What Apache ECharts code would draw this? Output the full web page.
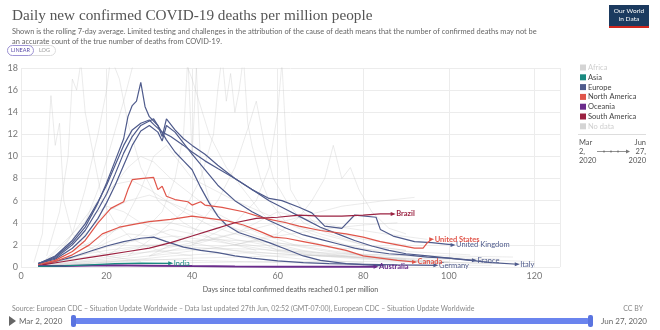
<!DOCTYPE html>
<html><head><meta charset="utf-8">
<script src="https://cdn.jsdelivr.net/npm/echarts@6/dist/echarts.min.js"></script>
<style>html,body{margin:0;padding:0;background:#fff}#c{width:660px;height:330px}</style>
</head><body><div id="c"></div><script>
// ---- data (day since 0.1 deaths/million, 7-day avg deaths per million) ----
const xTicks = [0, 20, 40, 60, 80, 100, 120];
const yTicks = [0, 2, 4, 6, 8, 10, 12, 14, 16, 18];
const continents = ['Africa', 'Asia', 'Europe', 'North America', 'Oceania', 'South America', 'No data'];

const spain = [[4,0.3],[8,0.9],[12,2.2],[15,3.6],[18,5.8],[20,7.6],[22,9.6],[24,11.6],[25,13.6],[26,14.6],[27,15.0],[28,16.7],[29,14.5],[30,13.6],[32,12.8],[34,11.5],[36,10.4],[38,9.6],[40,8.8],[42,7.2],[44,5.8],[46,4.6],[48,3.8],[51,3.1],[55,2.6],[58,2.2],[62,1.6],[66,1.0],[70,0.6],[76,0.3],[85,0.1]];
const italy = [[4,0.3],[8,1.0],[12,2.4],[15,3.9],[18,5.9],[20,7.4],[22,9.2],[24,11.0],[26,12.4],[28,13.0],[30,13.3],[31,12.9],[33,12.2],[35,11.8],[38,11.0],[40,10.4],[43,9.6],[46,8.9],[50,8.0],[54,7.0],[58,6.0],[62,5.2],[66,4.4],[70,3.6],[74,3.0],[78,2.4],[82,1.9],[86,1.5],[90,1.2],[95,1.0],[100,0.8],[105,0.6],[110,0.4],[116,0.25]];
const uk = [[4,0.3],[8,0.8],[12,2.0],[15,3.3],[18,5.2],[20,6.6],[22,8.4],[24,10.3],[26,11.8],[28,12.8],[30,13.2],[31,13.4],[32,12.8],[33,11.8],[34,13.4],[36,12.4],[38,11.6],[40,11.0],[43,10.2],[46,9.2],[50,8.0],[54,7.0],[58,6.2],[61,6.0],[65,5.4],[68,4.9],[71,3.7],[75,3.5],[78,4.7],[83,4.5],[84,3.4],[87,2.8],[92,2.3],[96,2.2],[101,2.0]];
const france = [[4,0.3],[8,0.7],[12,1.7],[15,2.8],[18,4.4],[20,5.8],[22,7.4],[24,9.2],[26,11.0],[28,12.3],[30,12.8],[32,12.2],[33,11.4],[34,12.8],[36,12.2],[38,11.2],[40,10.2],[43,8.8],[46,7.4],[50,6.0],[54,5.0],[58,4.2],[62,3.5],[66,2.9],[70,2.5],[74,2.1],[78,1.7],[82,1.4],[86,1.2],[90,1.1],[95,0.9],[100,0.8],[106,0.6]];
const germany = [[4,0.2],[8,0.5],[12,0.9],[16,1.4],[20,1.9],[24,2.3],[28,2.6],[31,2.7],[34,2.3],[38,1.8],[42,1.5],[46,1.3],[50,1.0],[54,0.8],[60,0.55],[66,0.4],[72,0.3],[80,0.25],[88,0.2],[97,0.15]];
const unitedStates = [[4,0.2],[8,0.6],[12,1.4],[15,2.4],[18,4.0],[21,5.3],[24,5.9],[25,7.0],[26,7.9],[28,8.0],[31,8.1],[32,7.0],[33,7.3],[34,6.4],[36,6.1],[39,5.9],[40,5.6],[42,5.9],[43,5.6],[47,5.4],[52,5.0],[57,4.4],[62,4.0],[65,3.7],[70,3.3],[76,3.0],[80,2.7],[84,2.3],[88,2.0],[92,1.7],[94,1.7],[95,2.2],[96,2.5]];
const canada = [[4,0.1],[8,0.5],[12,1.1],[16,2.0],[19,3.0],[23,3.6],[27,3.9],[30,4.1],[35,4.3],[40,4.6],[44,4.4],[48,4.2],[52,3.8],[56,3.2],[59,2.7],[62,2.6],[66,2.3],[70,2.0],[76,1.5],[80,1.0],[84,0.8],[88,0.6],[92,0.45]];
const brazil = [[5,0.2],[10,0.5],[15,0.8],[20,1.1],[25,1.4],[30,1.7],[35,2.2],[40,2.8],[45,3.4],[50,4.0],[55,4.4],[60,4.5],[65,4.7],[70,4.6],[75,4.6],[80,4.7],[84,4.8],[87,4.8]];
const australia = [[4,0.1],[10,0.1],[20,0.15],[30,0.12],[40,0.08],[50,0.05],[60,0.03],[70,0.02],[83,0.02]];
const india = [[4,0.05],[10,0.1],[16,0.2],[22,0.3],[28,0.35],[35,0.33]];

// faint background countries
const otherCountries = [
  [[3,0.4],[5,3],[6,9],[7,15.5],[8,11],[9,13],[10,6],[12,3],[15,2],[20,1],[28,0.5]],
  [[6,1],[9,5],[11,10],[12,17],[13,16],[14,18.5],[15,14],[17,10],[19,6],[22,4],[26,2.5],[32,1.5],[40,1]],
  [[8,0.5],[12,3],[15,7],[18,12],[20,16],[21,19],[23,17],[25,13],[28,9],[32,6],[38,4],[45,2.5],[55,1.5]],
  [[5,0.4],[10,1.5],[15,4],[18,7],[21,11],[24,15],[26,18],[28,20],[32,23],[36,21],[40,17],[44,12],[48,9],[52,7],[56,5],[60,3.5],[66,2.5],[72,1.8],[80,1],[90,0.6],[100,0.4]],
  [[20,1],[28,3],[33,5],[36,8],[38,12],[39,19],[40,10],[41,18],[42,9],[44,6],[47,4],[52,3],[60,1.5],[70,1]],
  [[25,1],[32,3],[38,5],[42,8],[45,12],[46,16],[47,19],[48,15],[49,17.5],[50,14],[51,16],[52,19],[53,13],[54,11],[56,8],[58,6],[62,4],[68,3],[76,2],[86,1.2]],
  [[30,1],[40,3],[46,6],[50,9],[53,12.5],[55,15],[57,11],[59,8],[62,6],[66,4],[72,3],[80,2],[90,1.5]],
  [[40,2],[50,4],[55,6],[58,9],[60,14],[61,18.5],[62,11],[63,7],[66,5],[70,3.5],[80,2.5],[90,2]],
  [[50,2],[60,3],[65,4.5],[68,6],[71,8],[73,11],[74,9.5],[75,8],[77,9],[79,7],[82,5],[86,3.5],[90,3]],
  [[5,0.3],[10,1],[15,2],[20,3],[25,3.8],[30,4.2],[35,4],[40,3.5],[50,2.5],[60,1.8],[70,1.2],[80,0.8],[90,0.6],[100,0.5]],
  [[5,0.2],[12,0.8],[20,1.8],[28,2.5],[36,2.8],[44,2.4],[52,1.9],[60,1.4],[70,1],[80,0.7],[95,0.5],[110,0.3]],
  [[5,0.3],[10,1.5],[15,3],[20,5],[25,6],[30,6.5],[35,5.8],[40,5],[45,4.2],[50,3.5],[55,2.8],[60,2.2],[70,1.5],[80,1],[90,0.7]],
  [[5,0.1],[15,0.5],[25,1],[35,1.8],[45,2.6],[55,3.5],[65,4.5],[75,5.5],[85,6],[92,6.3]],
  [[5,0.2],[20,0.6],[35,1.2],[50,2],[60,2.8],[70,3.4],[80,3.8],[88,4]],
  [[5,0.1],[15,0.3],[25,0.6],[35,1],[45,1.2],[55,1.3],[65,1.1],[75,0.9],[85,0.8],[95,0.6]],
  [[5,0.3],[10,2],[14,4],[18,6],[22,7.5],[26,7.8],[30,7],[34,6],[38,5],[44,3.8],[50,3],[58,2.2],[66,1.5],[76,1],[90,0.6]],
  [[5,0.2],[10,0.8],[20,1.5],[30,2],[40,1.8],[50,1.5],[60,1.2],[70,1],[80,0.9],[90,0.8],[100,0.7],[110,0.6],[120,0.5]],
  [[5,0.1],[20,0.4],[40,0.8],[60,1],[80,1.1],[100,1],[115,0.9]],
  [[5,0.4],[8,1.5],[12,3],[16,4.5],[20,5.5],[24,5],[28,4],[34,3],[40,2.2],[48,1.6],[56,1.1],[66,0.7],[80,0.4]],
  [[5,0.2],[15,0.9],[25,1.6],[35,2.2],[45,2.5],[55,2.3],[65,2],[75,1.7],[85,1.5],[95,1.3],[105,1.1]],
  [[5,0.05],[20,0.2],[40,0.4],[60,0.5],[80,0.5],[100,0.4],[120,0.3]],
  [[5,0.2],[10,0.6],[15,1.2],[20,2.2],[25,3],[30,2.8],[35,3.4],[40,3],[45,2.6],[50,2.2],[60,1.6],[70,1.1],[80,0.8],[90,0.5],[100,0.4]],
  [[30,1],[40,2],[50,3],[55,4],[60,5],[65,4.5],[70,4],[75,3.6],[85,3],[95,2.5]],
  [[5,0.3],[9,1.2],[13,2.8],[17,5],[21,7],[25,9],[28,10],[31,9.5],[35,8],[40,6.5],[45,5],[50,4],[56,3],[64,2],[72,1.5],[82,1],[92,0.7]],
  [[10,0.5],[18,2],[24,4],[28,7],[31,10],[34,11],[37,9.5],[40,8],[45,7],[50,6],[56,5],[62,4],[70,3],[80,2],[90,1.5]],
  [[5,0.2],[15,0.6],[25,1.2],[35,1.5],[45,1.7],[55,1.6],[65,1.4],[75,1.2],[85,1.1],[95,0.9],[105,0.8],[112,0.7]],
  [[5,0.1],[12,0.3],[20,0.5],[30,0.7],[40,0.6],[50,0.5],[60,0.4],[75,0.3],[90,0.2],[110,0.15]]
];

const COLORS = {
  'Africa': '#d4d4d4', 'Asia': '#1a8a80', 'Europe': '#4f5b8c', 'North America': '#e0554a',
  'Oceania': '#6b2c8c', 'South America': '#9b2241', 'No data': '#d4d4d4'
};

const highlighted = [
  {name: 'Spain', data: spain, cont: 'Europe', label: false},
  {name: 'Italy', data: italy, cont: 'Europe', label: true},
  {name: 'France', data: france, cont: 'Europe', label: true},
  {name: 'United Kingdom', data: uk, cont: 'Europe', label: true},
  {name: 'Germany', data: germany, cont: 'Europe', label: true},
  {name: 'Canada', data: canada, cont: 'North America', label: true, bold: true},
  {name: 'United States', data: unitedStates, cont: 'North America', label: true, bold: true},
  {name: 'Brazil', data: brazil, cont: 'South America', label: true, bold: true},
  {name: 'Australia', data: australia, cont: 'Oceania', label: true, bold: true, width: 2},
  {name: 'India', data: india, cont: 'Asia', label: true}
];

const series = [];
otherCountries.forEach((pts, i) => {
  series.push({
    type: 'line', name: 'other' + i, data: pts, symbol: 'none', silent: true,
    lineStyle: {color: '#c8c8c8', width: 0.8, opacity: 0.45}, z: 1, clip: true
  });
});
highlighted.forEach(h => {
  const col = COLORS[h.cont];
  const data = h.data.map((p, i) => i === h.data.length - 1 && h.label
    ? {value: p, symbol: 'triangle', symbolSize: [4, 5], symbolRotate: -90, itemStyle: {color: col}}
    : {value: p});
  series.push({
    type: 'line', name: h.name, data: data, symbol: 'none', showSymbol: true, showAllSymbol: true,
    lineStyle: {color: col, width: h.width || 1.2}, itemStyle: {color: col}, z: 5, clip: true,
    endLabel: {
      show: h.label, formatter: h.name, color: col, distance: 3,
      fontFamily: 'Lato', fontSize: 7.5, fontWeight: h.bold ? 'bold' : 'normal'
    }
  });
});

// legend drawn from the continent list
const legendGraphics = [];
continents.forEach((c, i) => {
  const y = 67.5 + i * 9.8;
  const faded = (c === 'Africa' || c === 'No data');
  legendGraphics.push({type: 'rect', shape: {x: 580, y: y - 3, width: 6, height: 6}, style: {fill: COLORS[c]}});
  legendGraphics.push({type: 'text', style: {x: 588, y: y, text: c, fill: faded ? '#cfcfcf' : '#444', font: '7.5px Lato', textVerticalAlign: 'middle'}});
});

const chart = echarts.init(document.getElementById('c'), null, {renderer: 'canvas'});
chart.setOption({
  animation: false,
  textStyle: {fontFamily: 'Lato'},
  title: [
    {text: 'Daily new confirmed COVID-19 deaths per million people', left: 7, top: 3,
     textStyle: {fontFamily: 'Liberation Serif', fontSize: 15.25, fontWeight: 'normal', color: '#555'}},
    {text: 'Shown is the rolling 7-day average. Limited testing and challenges in the attribution of the cause of death means that the number of confirmed deaths may not be\nan accurate count of the true number of deaths from COVID-19.',
     left: 7, top: 21, textStyle: {fontFamily: 'Lato', fontSize: 7.45, fontWeight: 'normal', color: '#666', lineHeight: 10.5}},
    {text: 'Source: European CDC – Situation Update Worldwide – Data last updated 27th Jun, 02:52 (GMT-07:00), European CDC – Situation Update Worldwide',
     left: 7, top: 300, textStyle: {fontFamily: 'Lato', fontSize: 7, fontWeight: 'normal', color: '#888'}},
    {text: 'CC BY', right: 12, top: 300, textStyle: {fontFamily: 'Lato', fontSize: 7, fontWeight: 'normal', color: '#888'}}
  ],
  grid: {left: 21, right: 100, top: 68, bottom: 63},
  xAxis: {
    type: 'value', min: 0, max: 126, interval: 20,
    name: 'Days since total confirmed deaths reached 0.1 per million', nameLocation: 'middle', nameGap: 18,
    nameTextStyle: {fontFamily: 'Lato', fontSize: 7, color: '#555'},
    axisLine: {show: false}, axisTick: {show: false},
    axisLabel: {fontSize: 9, color: '#777', margin: 5, showMaxLabel: false,
      formatter: v => xTicks.indexOf(v) >= 0 ? String(v) : ''},
    splitLine: {lineStyle: {color: '#ececec', width: 1}}
  },
  yAxis: {
    type: 'value', min: 0, max: 18, interval: 2,
    axisLine: {show: false}, axisTick: {show: false},
    axisLabel: {fontSize: 9, color: '#777', margin: 3,
      formatter: v => yTicks.indexOf(v) >= 0 ? String(v) : ''},
    splitLine: {lineStyle: {color: '#ececec', width: 1}}
  },
  series: series,
  graphic: legendGraphics.concat([
    // LINEAR / LOG toggle
    {type: 'rect', shape: {x: 7.5, y: 45.5, width: 48, height: 10, r: 5}, style: {fill: '#fff', stroke: '#ddd', lineWidth: 1}},
    {type: 'rect', shape: {x: 7.5, y: 45.5, width: 26, height: 10, r: 5}, style: {fill: '#fff', stroke: '#9f95d6', lineWidth: 1}},
    {type: 'text', style: {x: 20.5, y: 50.5, text: 'LINEAR', fill: '#5b4ca8', font: '5.5px Lato', textAlign: 'center', textVerticalAlign: 'middle'}},
    {type: 'text', style: {x: 44.5, y: 50.5, text: 'LOG', fill: '#999', font: '5.5px Lato', textAlign: 'center', textVerticalAlign: 'middle'}},
    // logo
    {type: 'rect', shape: {x: 609, y: 5, width: 40, height: 23}, style: {fill: '#1b3a5f'}},
    {type: 'rect', shape: {x: 609, y: 26, width: 40, height: 2}, style: {fill: '#d0261d'}},
    {type: 'text', style: {x: 629, y: 10.5, text: 'Our World', fill: '#fff', font: '6.5px Lato', textAlign: 'center', textVerticalAlign: 'middle'}},
    {type: 'text', style: {x: 629, y: 19, text: 'in Data', fill: '#fff', font: '6.5px Lato', textAlign: 'center', textVerticalAlign: 'middle'}},
    // legend separator + date range
    {type: 'line', shape: {x1: 578, y1: 134.5, x2: 646, y2: 134.5}, style: {stroke: '#ddd', lineWidth: 1}},
    {type: 'text', style: {x: 579, y: 138, text: 'Mar\n2,\n2020', fill: '#555', font: '7.5px Lato', lineHeight: 9}},
    {type: 'text', style: {x: 646, y: 138, text: 'Jun\n27,\n2020', fill: '#555', font: '7.5px Lato', lineHeight: 9, textAlign: 'right'}},
    {type: 'line', shape: {x1: 597, y1: 151.5, x2: 627, y2: 151.5}, style: {stroke: '#777', lineWidth: 0.8}},
    {type: 'circle', shape: {cx: 604, cy: 151.5, r: 1}, style: {fill: '#777'}},
    {type: 'circle', shape: {cx: 611, cy: 151.5, r: 1}, style: {fill: '#777'}},
    {type: 'circle', shape: {cx: 618, cy: 151.5, r: 1}, style: {fill: '#777'}},
    {type: 'polygon', shape: {points: [[626, 149.5], [630, 151.5], [626, 153.5]]}, style: {fill: '#777'}},
    // timeline
    {type: 'polygon', shape: {points: [[9, 316], [16, 321], [9, 326]]}, style: {fill: '#666'}},
    {type: 'text', style: {x: 19, y: 321, text: 'Mar 2, 2020', fill: '#666', font: '8px Lato', textVerticalAlign: 'middle'}},
    {type: 'rect', shape: {x: 74, y: 318, width: 516, height: 6, r: 3}, style: {fill: '#6a84ee'}},
    {type: 'rect', shape: {x: 71, y: 315, width: 5, height: 12, r: 2}, style: {fill: '#5a74e0'}},
    {type: 'rect', shape: {x: 588, y: 315, width: 5, height: 12, r: 2}, style: {fill: '#5a74e0'}},
    {type: 'text', style: {x: 647, y: 321, text: 'Jun 27, 2020', fill: '#666', font: '8px Lato', textAlign: 'right', textVerticalAlign: 'middle'}}
  ])
});
</script></body></html>
